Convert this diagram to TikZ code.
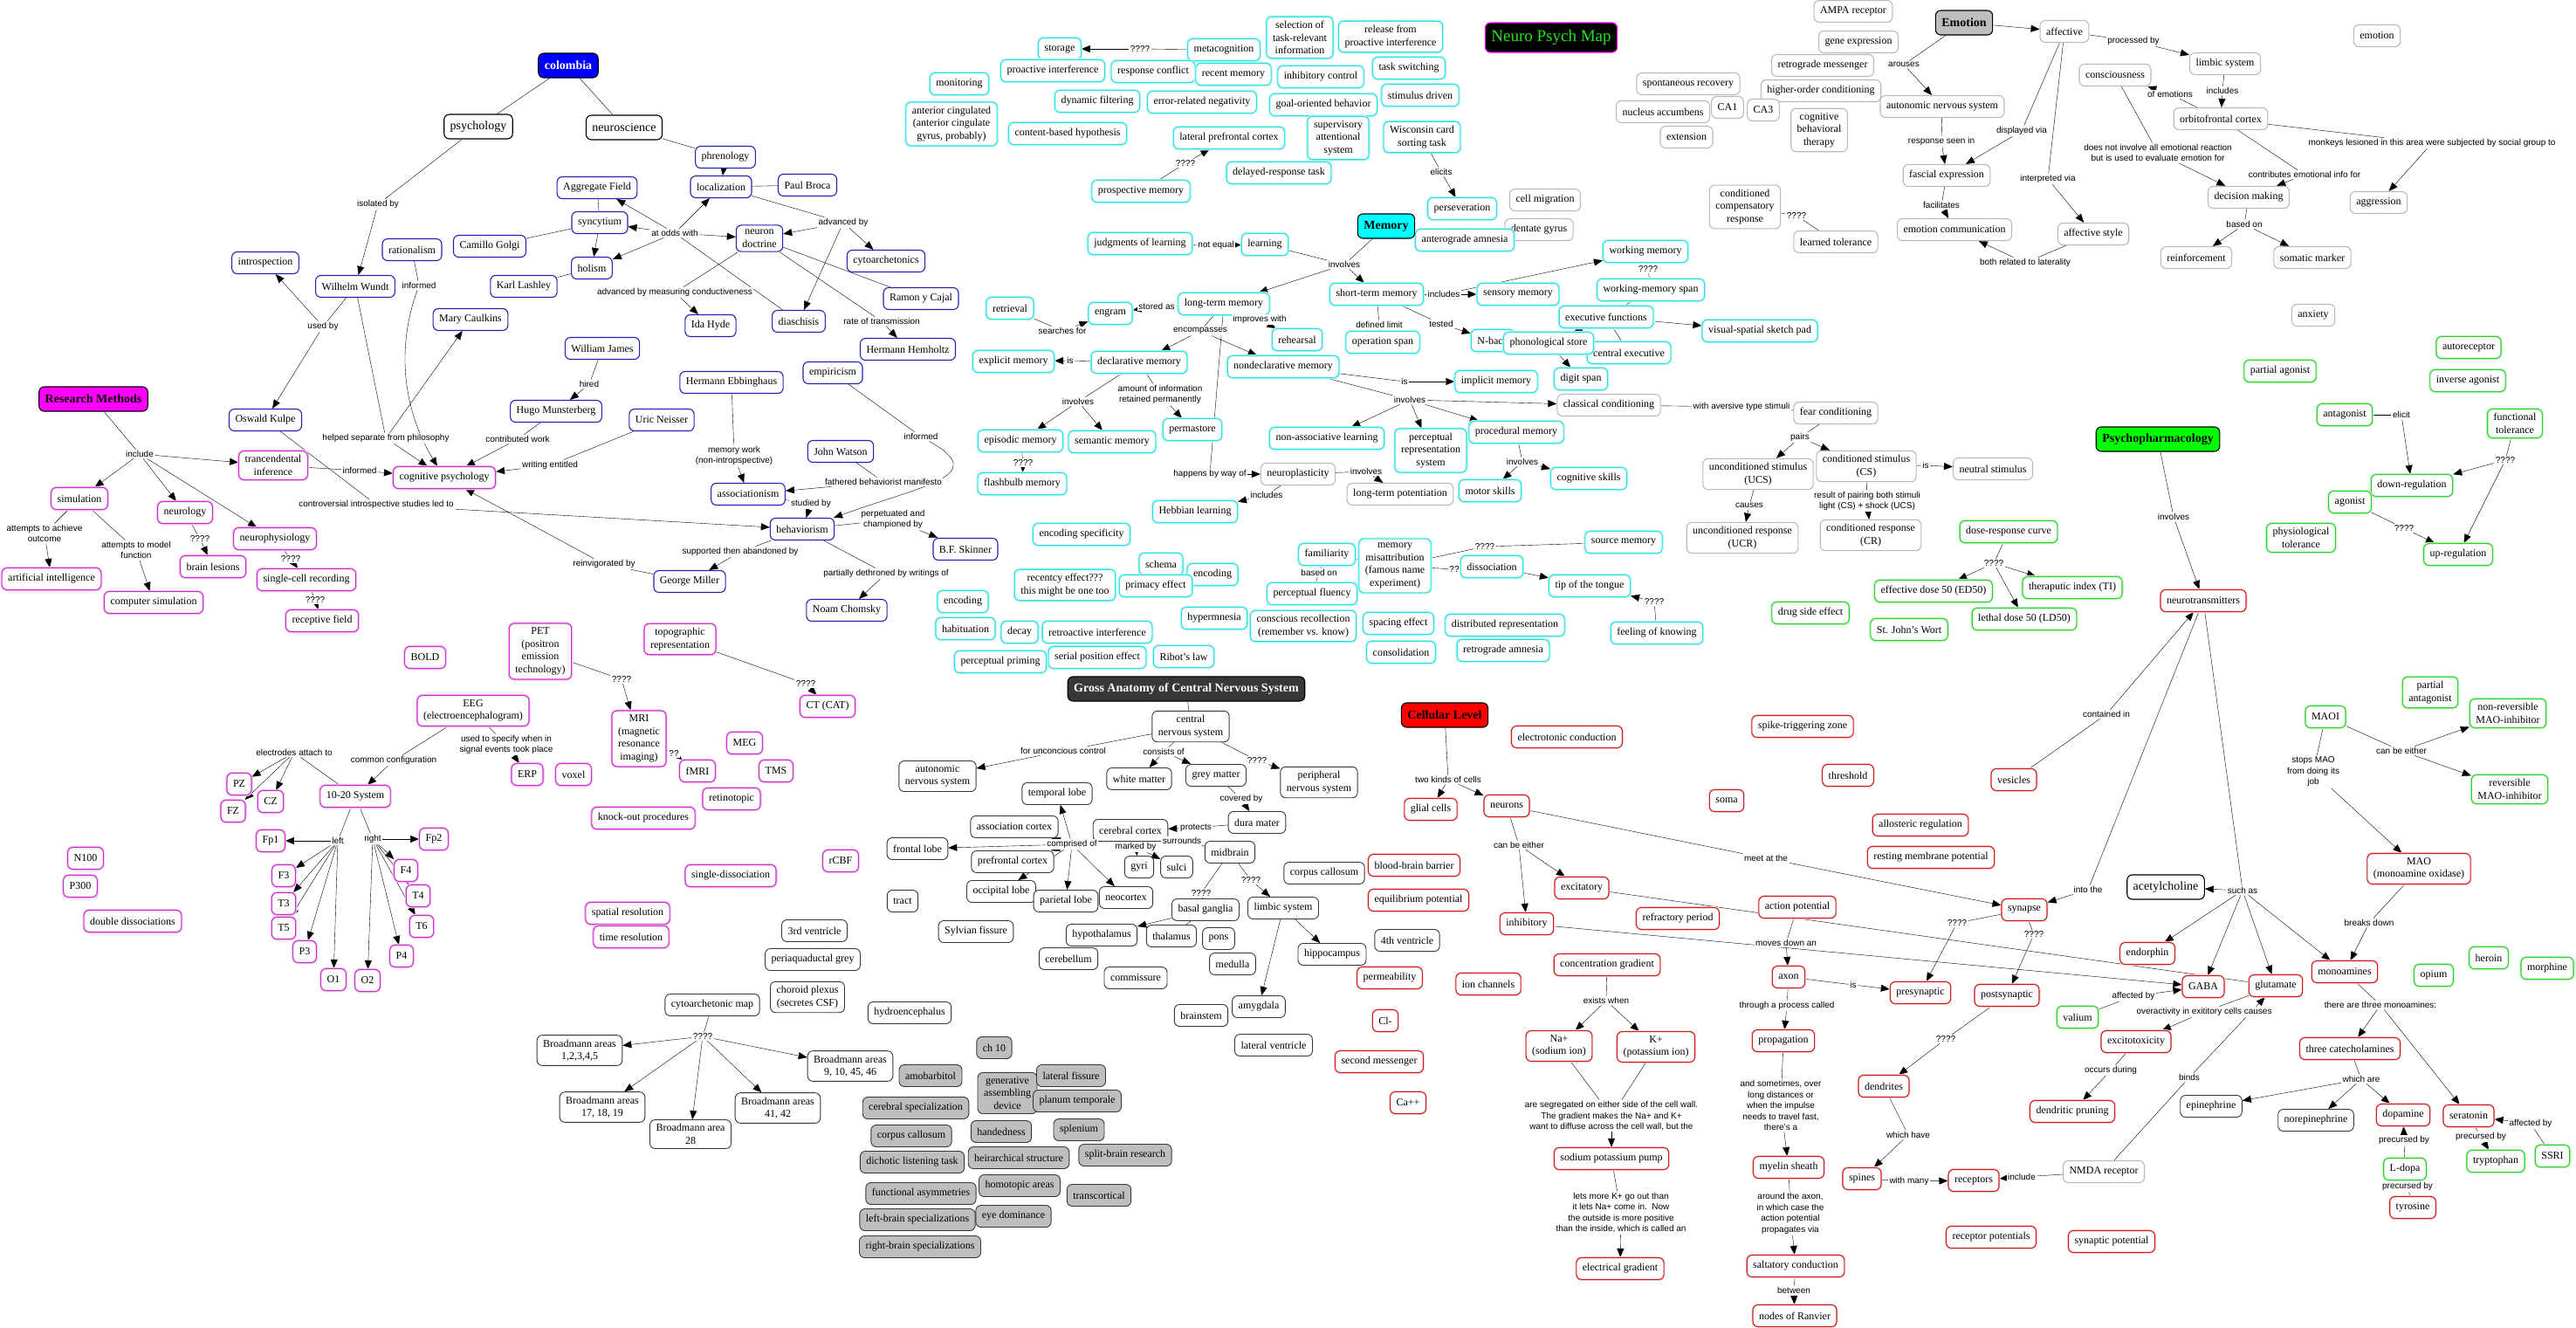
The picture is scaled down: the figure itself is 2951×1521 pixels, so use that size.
\documentclass[tikz,border=0pt]{standalone}
\usepackage{fontspec}
\setmainfont{Liberation Serif}
\setsansfont{Liberation Sans}
\usetikzlibrary{arrows.meta,backgrounds}

\definecolor{histblue}{RGB}{35,35,175}
\definecolor{memcyan}{RGB}{40,225,225}
\definecolor{resmag}{RGB}{205,45,205}
\definecolor{cellred}{RGB}{205,30,30}
\definecolor{pharmgreen}{RGB}{45,210,45}
\definecolor{softgray}{RGB}{185,185,185}
\definecolor{shadegray}{RGB}{190,190,190}
\definecolor{darkbox}{RGB}{55,55,55}
\definecolor{mapgreen}{RGB}{30,230,30}
\definecolor{fillblue}{RGB}{0,0,255}
\definecolor{fillmag}{RGB}{255,0,255}
\definecolor{fillcyan}{RGB}{0,255,255}
\definecolor{fillgreen}{RGB}{0,255,0}
\definecolor{fillred}{RGB}{255,0,0}

\begin{document}
\begin{tikzpicture}[x=1pt, y=-1pt,
    every node/.style={font=\fontsize{12}{14.5}\selectfont},
    conceptbox/.style={rectangle, rounded corners=6pt, draw=black, fill=white, line width=1.1pt,
                       inner xsep=7pt, inner ysep=5pt, minimum height=25pt, align=center},
    histbox/.style={conceptbox, draw=histblue},
    membox/.style={conceptbox, draw=memcyan, preaction={draw=memcyan!30, line width=3.5pt}},
    resbox/.style={conceptbox, draw=resmag, preaction={draw=resmag!25, line width=3.5pt}},
    cellbox/.style={conceptbox, draw=cellred, preaction={draw=cellred!15, line width=3pt}},
    pharmbox/.style={conceptbox, draw=pharmgreen, preaction={draw=pharmgreen!25, line width=3.5pt}},
    plainbox/.style={conceptbox, draw=softgray},
    anatbox/.style={conceptbox, draw=darkbox, line width=0.9pt},
    shadebox/.style={conceptbox, draw=darkbox, fill=shadegray, line width=0.9pt},
    bigbox/.style={conceptbox, font=\fontsize{14}{16}\selectfont, minimum height=28pt},
    titlebox/.style={conceptbox, font=\fontsize{14}{16}\selectfont\bfseries, minimum height=28pt},
    linkstyle/.style={font=\sffamily\fontsize{10}{12.5}\selectfont, fill=white, inner sep=1.5pt, align=center},
    arr/.style={-{Triangle[length=10pt, width=8pt]}}
]
  \useasboundingbox (0,0) rectangle (2951,1521);

  % History column
  \node[titlebox, fill=fillblue, text=white] (colombia) at (651,75) {colombia};
  \node[bigbox] (psych)    at (548,145) {psychology};
  \node[bigbox] (neurosci) at (715,146) {neuroscience};
  \node[histbox] (h-aggr)     at (684,215) {Aggregate Field};
  \node[histbox] (h-sync)     at (687,255) {syncytium};
  \node[histbox] (h-golgi)    at (561,282) {Camillo Golgi};
  \node[histbox] (h-holism)   at (678,307) {holism};
  \node[histbox] (h-lashley)  at (600,328) {Karl Lashley};
  \node[histbox] (h-ration)   at (472,286) {rationalism};
  \node[histbox] (h-intro)    at (304,301) {introspection};
  \node[histbox] (h-wundt)    at (407,328) {Wilhelm Wundt};
  \node[histbox] (h-mary)     at (539,366) {Mary Caulkins};
  \node[histbox] (h-james)    at (690,399) {William James};
  \node[histbox] (h-hugo)     at (637,471) {Hugo Munsterberg};
  \node[histbox] (h-kulpe)    at (304,481) {Oswald Kulpe};
  \node[histbox] (h-phren)    at (831,180) {phrenology};
  \node[histbox] (h-local)    at (826,214) {localization};
  \node[histbox] (h-broca)    at (925,212) {Paul Broca};
  \node[histbox] (h-doctrine) at (870,273) {neuron\\doctrine};
  \node[histbox] (h-cyto)     at (1015,299) {cytoarchetonics};
  \node[histbox] (h-cajal)    at (1055,342) {Ramon y Cajal};
  \node[histbox] (h-hyde)     at (814,373) {Ida Hyde};
  \node[histbox] (h-diasch)   at (915,368) {diaschisis};
  \node[histbox] (h-helm)     at (1040,400) {Hermann Hemholtz};
  \node[histbox] (h-empir)    at (954,427) {empiricism};
  \node[histbox] (h-ebbing)   at (838,438) {Hermann Ebbinghaus};
  \node[histbox] (h-neisser)  at (758,481) {Uric Neisser};
  \node[histbox] (h-watson)   at (963,517) {John Watson};
  \node[histbox] (h-assoc)    at (857,566) {associationism};
  \node[histbox] (h-behav)    at (919,606) {behaviorism};
  \node[histbox] (h-skinner)  at (1106,629) {B.F. Skinner};
  \node[histbox] (h-miller)   at (790,666) {George Miller};
  \node[histbox] (h-chomsky)  at (970,699) {Noam Chomsky};

  \node[linkstyle] (l-isol)       at (433,234) {isolated by};
  \node[linkstyle] (l-usedby)     at (370,374) {used by};
  \node[linkstyle] (l-inform1)    at (480,327) {informed};
  \node[linkstyle] (l-helped)     at (442,502) {helped separate from philosophy};
  \node[linkstyle] (l-contrib)    at (593,503) {contributed work};
  \node[linkstyle] (l-hired)      at (675,440) {hired};
  \node[linkstyle] (l-writing)    at (630,533) {writing entitled};
  \node[linkstyle] (l-odds)       at (773,267) {at odds with};
  \node[linkstyle] (l-adv)        at (966,255) {advanced by};
  \node[linkstyle] (l-advmeas)    at (773,335) {advanced by measuring conductiveness};
  \node[linkstyle] (l-ratetr)     at (1010,368) {rate of transmission};
  \node[linkstyle] (l-memwork)    at (841,522) {memory work\\(non-intropspective)};
  \node[linkstyle] (l-inform2)    at (1055,500) {informed};
  \node[linkstyle] (l-fathered)   at (1012,552) {fathered behaviorist manifesto};
  \node[linkstyle] (l-studied)    at (929,577) {studied by};
  \node[linkstyle] (l-perpet)     at (1023,595) {perpetuated and\\championed by};
  \node[linkstyle] (l-supported)  at (848,632) {supported then abandoned by};
  \node[linkstyle] (l-dethroned)  at (1015,657) {partially dethroned by writings of};
  \node[linkstyle] (l-controv)    at (431,578) {controversial introspective studies led to};
  \node[linkstyle] (l-reinvig)    at (692,646) {reinvigorated by};

  % Research methods column
  \node[titlebox, fill=fillmag] (res-title) at (107,457) {Research Methods};
  \node[resbox] (r-trans)     at (313,533) {trancendental\\inference};
  \node[resbox] (r-cogpsych)  at (509,547) {cognitive psychology};
  \node[resbox] (r-sim)       at (91,571) {simulation};
  \node[resbox] (r-neurol)    at (212,587) {neurology};
  \node[resbox] (r-neurophys) at (315,617) {neurophysiology};
  \node[resbox] (r-ai)        at (59,663) {artificial intelligence};
  \node[resbox] (r-compsim)   at (176,690) {computer simulation};
  \node[resbox] (r-lesions)   at (244,649) {brain lesions};
  \node[resbox] (r-single)    at (351,664) {single-cell recording};
  \node[resbox] (r-recept)    at (369,711) {receptive field};
  \node[resbox] (r-bold)      at (487,753) {BOLD};
  \node[resbox] (r-pet)       at (619,746) {PET\\(positron\\emission\\technology)};
  \node[resbox] (r-topo)      at (779,732) {topographic\\representation};
  \node[resbox] (r-ct)        at (948,809) {CT (CAT)};
  \node[resbox] (r-eeg)       at (542,814) {EEG\\(electroencephalogram)};
  \node[resbox] (r-mri)       at (732,846) {MRI\\(magnetic\\resonance\\imaging)};
  \node[resbox] (r-fmri)      at (799,883) {fMRI};
  \node[resbox] (r-meg)       at (853,851) {MEG};
  \node[resbox] (r-tms)       at (889,883) {TMS};
  \node[resbox] (r-retino)    at (838,915) {retinotopic};
  \node[resbox] (r-knock)     at (737,937) {knock-out procedures};
  \node[resbox] (r-erp)       at (604,887) {ERP};
  \node[resbox] (r-voxel)     at (657,887) {voxel};
  \node[resbox] (r-1020)      at (407,912) {10-20 System};
  \node[resbox] (r-pz)  at (274,898) {PZ};
  \node[resbox] (r-cz)  at (310,918) {CZ};
  \node[resbox] (r-fz)  at (267,929) {FZ};
  \node[resbox] (r-fp1) at (310,963) {Fp1};
  \node[resbox] (r-fp2) at (497,961) {Fp2};
  \node[resbox] (r-f3)  at (325,1003) {F3};
  \node[resbox] (r-f4)  at (465,997) {F4};
  \node[resbox] (r-t3)  at (325,1035) {T3};
  \node[resbox] (r-t4)  at (479,1026) {T4};
  \node[resbox] (r-t5)  at (325,1063) {T5};
  \node[resbox] (r-t6)  at (483,1061) {T6};
  \node[resbox] (r-p3)  at (349,1090) {P3};
  \node[resbox] (r-p4)  at (460,1095) {P4};
  \node[resbox] (r-o1)  at (382,1122) {O1};
  \node[resbox] (r-o2)  at (421,1123) {O2};
  \node[resbox] (r-n100)    at (98,983) {N100};
  \node[resbox] (r-p300)    at (92,1015) {P300};
  \node[resbox] (r-double)  at (152,1055) {double dissociations};
  \node[resbox] (r-singled) at (837,1003) {single-dissociation};
  \node[resbox] (r-rcbf)    at (963,986) {rCBF};
  \node[resbox] (r-spatial) at (719,1046) {spatial resolution};
  \node[resbox] (r-time)    at (723,1073) {time resolution};

  \node[linkstyle] (l-include)  at (160,520) {include};
  \node[linkstyle] (l-inform3)  at (412,539) {informed};
  \node[linkstyle] (l-achieve)  at (51,611) {attempts to achieve\\outcome};
  \node[linkstyle] (l-model)    at (156,630) {attempts to model\\function};
  \node[linkstyle] (l-q1)  at (229,617) {????};
  \node[linkstyle] (l-q2)  at (333,640) {????};
  \node[linkstyle] (l-q3)  at (361,687) {????};
  \node[linkstyle] (l-q4)  at (712,778) {????};
  \node[linkstyle] (l-q5)  at (923,783) {????};
  \node[linkstyle] (l-q6)  at (772,863) {??};
  \node[linkstyle] (l-used)   at (580,853) {used to specify when in\\signal events took place};
  \node[linkstyle] (l-common) at (451,871) {common configuration};
  \node[linkstyle] (l-electr) at (337,862) {electrodes attach to};
  \node[linkstyle] (l-left)   at (387,963) {left};
  \node[linkstyle] (l-right)  at (427,961) {right};

  % Memory column
  \node[membox] (m-storage)   at (1214,56) {storage};
  \node[membox] (m-metacog)   at (1402,57) {metacognition};
  \node[membox] (m-select)    at (1489,43) {selection of\\task-relevant\\information};
  \node[membox] (m-release)   at (1593,42) {release from\\proactive interference};
  \node[membox] (m-proact)    at (1206,81) {proactive interference};
  \node[membox] (m-respconf)  at (1321,82) {response conflict};
  \node[membox] (m-recent)    at (1413,85) {recent memory};
  \node[membox] (m-inhib)     at (1513,88) {inhibitory control};
  \node[membox] (m-task)      at (1614,78) {task switching};
  \node[membox] (m-monitor)   at (1099,96) {monitoring};
  \node[membox] (m-dynfilt)   at (1257,116) {dynamic filtering};
  \node[membox] (m-ern)       at (1377,117) {error-related negativity};
  \node[membox] (m-goal)      at (1516,120) {goal-oriented behavior};
  \node[membox] (m-stim)      at (1627,109) {stimulus driven};
  \node[membox] (m-acc)       at (1090,142) {anterior cingulated\\(anterior cingulate\\gyrus, probably)};
  \node[membox] (m-content)   at (1223,153) {content-based hypothesis};
  \node[membox] (m-lpfc)      at (1408,158) {lateral prefrontal cortex};
  \node[membox] (m-sas)       at (1533,158) {supervisory\\attentional\\system};
  \node[membox] (m-wisc)      at (1629,157) {Wisconsin card\\sorting task};
  \node[membox] (m-delayed)   at (1465,198) {delayed-response task};
  \node[membox] (m-prosp)     at (1307,219) {prospective memory};
  \node[membox] (m-persev)    at (1675,239) {perseveration};
  \node[plainbox] (e-cellmig) at (1770,229) {cell migration};
  \node[plainbox] (e-dentate) at (1763,263) {dentate gyrus};
  \node[membox] (m-antero)    at (1678,275) {anterograde amnesia};
  \node[titlebox, fill=fillcyan] (mem-title) at (1588,259) {Memory};
  \node[membox] (m-jol)       at (1306,279) {judgments of learning};
  \node[membox] (m-learning)  at (1449,280) {learning};
  \node[membox] (m-ltm)       at (1402,348) {long-term memory};
  \node[membox] (m-engram)    at (1272,359) {engram};
  \node[membox] (m-retrieval) at (1157,353) {retrieval};
  \node[membox] (m-rehearsal) at (1486,389) {rehearsal};
  \node[membox] (m-explicit)  at (1161,414) {explicit memory};
  \node[membox] (m-declar)    at (1305,415) {declarative memory};
  \node[membox] (m-nondecl)   at (1470,420) {nondeclarative memory};
  \node[membox] (m-permastore) at (1366,492) {permastore};
  \node[membox] (m-episodic)  at (1169,505) {episodic memory};
  \node[membox] (m-semantic)  at (1274,506) {semantic memory};
  \node[membox] (m-flash)     at (1171,554) {flashbulb memory};
  \node[membox] (m-stm)       at (1577,337) {short-term memory};
  \node[membox] (m-sensory)   at (1739,337) {sensory memory};
  \node[membox] (m-working)   at (1885,288) {working memory};
  \node[membox] (m-wmspan)    at (1891,332) {working-memory span};
  \node[membox] (m-exec)      at (1840,363) {executive functions};
  \node[membox] (m-visual)    at (2016,379) {visual-spatial sketch pad};
  \node[membox] (m-operation) at (1584,392) {operation span};
  \node[membox] (m-nback)     at (1710,390) {N-back};
  \node[membox] (m-central)   at (1866,404) {central executive};
  \node[membox] (m-phono)     at (1774,393) {phonological store};
  \node[membox] (m-digit)     at (1811,434) {digit span};
  \node[membox] (m-implicit)  at (1714,437) {implicit memory};
  \node[membox] (m-nonassoc)  at (1520,502) {non-associative learning};
  \node[membox] (m-prs)       at (1639,516) {perceptual\\representation\\system};
  \node[membox] (m-proced)    at (1737,495) {procedural memory};
  \node[membox] (m-motor)     at (1707,562) {motor skills};
  \node[membox] (m-cogsk)     at (1820,548) {cognitive skills};
  \node[membox] (m-hebb)      at (1369,586) {Hebbian learning};
  \node[membox] (m-encspec)   at (1239,612) {encoding specificity};
  \node[membox] (m-schema)    at (1330,646) {schema};
  \node[membox] (m-encoding2) at (1389,658) {encoding};
  \node[membox] (m-recentcy)  at (1220,670) {recentcy effect???\\this might be one too};
  \node[membox] (m-primacy)   at (1324,671) {primacy effect};
  \node[membox] (m-encoding)  at (1103,689) {encoding};
  \node[membox] (m-hyper)     at (1391,708) {hypermnesia};
  \node[membox] (m-familiar)  at (1520,635) {familiarity};
  \node[membox] (m-fluency)   at (1503,680) {perceptual fluency};
  \node[membox] (m-conscious) at (1493,717) {conscious recollection\\(remember vs. know)};
  \node[membox] (m-misattr)   at (1598,648) {memory\\misattribution\\(famous name\\experiment)};
  \node[membox] (m-habit)     at (1106,720) {habituation};
  \node[membox] (m-decay)     at (1168,724) {decay};
  \node[membox] (m-retroact)  at (1257,724) {retroactive interference};
  \node[membox] (m-priming)   at (1146,758) {perceptual priming};
  \node[membox] (m-serial)    at (1257,753) {serial position effect};
  \node[membox] (m-ribot)     at (1356,752) {Ribot's law};
  \node[membox] (m-source)    at (1860,621) {source memory};
  \node[membox] (m-dissoc)    at (1709,649) {dissociation};
  \node[membox] (m-tot)       at (1821,671) {tip of the tongue};
  \node[membox] (m-fok)       at (1898,725) {feeling of knowing};
  \node[membox] (m-spacing)   at (1602,714) {spacing effect};
  \node[membox] (m-distrib)   at (1724,716) {distributed representation};
  \node[membox] (m-consol)    at (1605,747) {consolidation};
  \node[membox] (m-retrograde) at (1722,745) {retrograde amnesia};

  \node[plainbox] (e-neuroplast) at (1487,543) {neuroplasticity};
  \node[plainbox] (e-ltp)        at (1604,566) {long-term potentiation};
  \node[plainbox] (e-classical)  at (1843,464) {classical conditioning};
  \node[plainbox] (e-fear)       at (2103,473) {fear conditioning};
  \node[plainbox] (e-ucs)        at (2014,543) {unconditioned stimulus\\(UCS)};
  \node[plainbox] (e-cs)         at (2138,534) {conditioned stimulus\\(CS)};
  \node[plainbox] (e-neutral)    at (2283,537) {neutral stimulus};
  \node[plainbox] (e-ucr)        at (1996,616) {unconditioned response\\(UCR)};
  \node[plainbox] (e-cr)         at (2143,613) {conditioned response\\(CR)};

  \node[linkstyle] (l-q17)        at (1306,56) {????};
  \node[linkstyle] (l-q18)        at (1358,187) {????};
  \node[linkstyle] (l-elicits)    at (1651,197) {elicits};
  \node[linkstyle] (l-involves1)  at (1540,303) {involves};
  \node[linkstyle] (l-noteq)      at (1393,281) {not equal};
  \node[linkstyle] (l-stored)     at (1325,351) {stored as};
  \node[linkstyle] (l-searches)   at (1217,379) {searches for};
  \node[linkstyle] (l-improves)   at (1443,366) {improves with};
  \node[linkstyle] (l-encomp)     at (1375,379) {encompasses};
  \node[linkstyle] (l-is1)        at (1226,413) {is};
  \node[linkstyle] (l-involves2)  at (1235,460) {involves};
  \node[linkstyle] (l-amount)     at (1329,452) {amount of information\\retained permanently};
  \node[linkstyle] (l-q19)        at (1172,530) {????};
  \node[linkstyle] (l-happens)    at (1386,543) {happens by way of};
  \node[linkstyle] (l-includes4)  at (1451,567) {includes};
  \node[linkstyle] (l-involves6)  at (1565,540) {involves};
  \node[linkstyle] (l-includes1)  at (1654,337) {includes};
  \node[linkstyle] (l-defined)    at (1580,372) {defined limit};
  \node[linkstyle] (l-tested)     at (1651,371) {tested};
  \node[linkstyle] (l-q20)        at (1888,308) {????};
  \node[linkstyle] (l-is2)        at (1609,437) {is};
  \node[linkstyle] (l-involves3)  at (1615,458) {involves};
  \node[linkstyle] (l-involves4)  at (1744,529) {involves};
  \node[linkstyle] (l-aversive)   at (1995,466) {with aversive type stimuli};
  \node[linkstyle] (l-pairs)      at (2062,501) {pairs};
  \node[linkstyle] (l-causes)     at (2004,579) {causes};
  \node[linkstyle] (l-is4)        at (2206,533) {is};
  \node[linkstyle] (l-result)     at (2139,574) {result of pairing both stimuli\\light (CS) + shock (UCS)};
  \node[linkstyle] (l-q22)        at (1701,626) {????};
  \node[linkstyle] (l-q23)        at (1666,652) {??};
  \node[linkstyle] (l-q24)        at (1895,689) {????};
  \node[linkstyle] (l-basedon2)   at (1511,656) {based on};

  % Emotion column
  \node[conceptbox, fill=black, draw=fillmag, text=mapgreen, font=\fontsize{19}{22}\selectfont,
        minimum height=34pt] (map-title) at (1777,43) {Neuro Psych Map};
  \node[plainbox] (e-ampa)      at (2123,13) {AMPA receptor};
  \node[plainbox] (e-gene)      at (2129,48) {gene expression};
  \node[plainbox] (e-retro)     at (2088,75) {retrograde messenger};
  \node[plainbox] (e-spont)     at (1934,96) {spontaneous recovery};
  \node[plainbox] (e-higher)    at (2086,104) {higher-order conditioning};
  \node[plainbox] (e-nucleus)   at (1905,128) {nucleus accumbens};
  \node[plainbox] (e-ca1)       at (1979,123) {CA1};
  \node[plainbox] (e-ca3)       at (2020,126) {CA3};
  \node[plainbox] (e-cbt)       at (2084,149) {cognitive\\behavioral\\therapy};
  \node[plainbox] (e-extension) at (1932,157) {extension};
  \node[plainbox] (e-ccr)       at (1999,237) {conditioned\\compensatory\\response};
  \node[plainbox] (e-learned)   at (2103,277) {learned tolerance};
  \node[titlebox, fill=shadegray] (emo-title) at (2250,26) {Emotion};
  \node[plainbox] (e-affective) at (2365,36) {affective};
  \node[plainbox] (e-emotion)   at (2723,41) {emotion};
  \node[plainbox] (e-limbic)    at (2549,73) {limbic system};
  \node[plainbox] (e-conscious) at (2423,86) {consciousness};
  \node[plainbox] (e-ofc)       at (2544,136) {orbitofrontal cortex};
  \node[plainbox] (e-ans)       at (2225,122) {autonomic nervous system};
  \node[plainbox] (e-fascial)   at (2230,201) {fascial expression};
  \node[plainbox] (e-decision)  at (2576,226) {decision making};
  \node[plainbox] (e-aggress)   at (2725,232) {aggression};
  \node[plainbox] (e-emocomm)   at (2239,263) {emotion communication};
  \node[plainbox] (e-affstyle)  at (2398,268) {affective style};
  \node[plainbox] (e-reinf)     at (2516,295) {reinforcement};
  \node[plainbox] (e-somatic)   at (2649,295) {somatic marker};
  \node[plainbox] (e-anxiety)   at (2650,361) {anxiety};

  \node[linkstyle] (l-q21)         at (2058,247) {????};
  \node[linkstyle] (l-arouses)     at (2181,74) {arouses};
  \node[linkstyle] (l-respseen)    at (2224,162) {response seen in};
  \node[linkstyle] (l-facil)       at (2224,235) {facilitates};
  \node[linkstyle] (l-processed)   at (2444,47) {processed by};
  \node[linkstyle] (l-includes3)   at (2546,104) {includes};
  \node[linkstyle] (l-ofemo)       at (2486,108) {of emotions};
  \node[linkstyle] (l-displayed)   at (2316,150) {displayed via};
  \node[linkstyle] (l-doesnot)     at (2472,175) {does not involve all emotional reaction\\but is used to evaluate emotion for};
  \node[linkstyle] (l-monkeys)     at (2786,164) {monkeys lesioned in this area were subjected by social group to};
  \node[linkstyle] (l-contributes) at (2640,200) {contributes emotional info for};
  \node[linkstyle] (l-interp)      at (2346,205) {interpreted via};
  \node[linkstyle] (l-laterality)  at (2320,301) {both related to laterality};
  \node[linkstyle] (l-basedon)     at (2571,257) {based on};

  % Psychopharmacology column
  \node[titlebox, fill=fillgreen] (pharm-title) at (2472,503) {Psychopharmacology};
  \node[pharmbox] (p-dose)    at (2301,609) {dose-response curve};
  \node[pharmbox] (p-ed50)    at (2215,677) {effective dose 50 (ED50)};
  \node[pharmbox] (p-ti)      at (2374,673) {theraputic index (TI)};
  \node[pharmbox] (p-ld50)    at (2319,709) {lethal dose 50 (LD50)};
  \node[pharmbox] (p-wort)    at (2187,721) {St. John's Wort};
  \node[pharmbox] (p-side)    at (2074,702) {drug side effect};
  \node[pharmbox] (p-partag)  at (2612,425) {partial agonist};
  \node[pharmbox] (p-autorec) at (2828,398) {autoreceptor};
  \node[pharmbox] (p-inverse) at (2827,436) {inverse agonist};
  \node[pharmbox] (p-antag)   at (2686,475) {antagonist};
  \node[pharmbox] (p-functol) at (2881,485) {functional\\tolerance};
  \node[pharmbox] (p-down)    at (2763,556) {down-regulation};
  \node[pharmbox] (p-agonist) at (2692,575) {agonist};
  \node[pharmbox] (p-physio)  at (2636,616) {physiological\\tolerance};
  \node[pharmbox] (p-up)      at (2816,635) {up-regulation};
  \node[pharmbox] (p-partant) at (2784,793) {partial\\antagonist};
  \node[pharmbox] (p-maoi)    at (2664,821) {MAOI};
  \node[pharmbox] (p-nonrev)  at (2873,817) {non-reversible\\MAO-inhibitor};
  \node[pharmbox] (p-rev)     at (2875,904) {reversible\\MAO-inhibitor};
  \node[pharmbox] (p-valium)  at (2380,1165) {valium};
  \node[pharmbox] (p-opium)   at (2788,1117) {opium};
  \node[pharmbox] (p-heroin)  at (2851,1097) {heroin};
  \node[pharmbox] (p-morph)   at (2918,1109) {morphine};
  \node[pharmbox] (p-ldopa)   at (2755,1339) {L-dopa};
  \node[pharmbox] (p-trypt)   at (2859,1330) {tryptophan};
  \node[pharmbox] (p-ssri)    at (2924,1324) {SSRI};

  \node[linkstyle] (l-involves5) at (2490,592) {involves};
  \node[linkstyle] (l-q14)       at (2284,645) {????};
  \node[linkstyle] (l-elicit)    at (2751,475) {elicit};
  \node[linkstyle] (l-q15)       at (2870,527) {????};
  \node[linkstyle] (l-q16)       at (2754,605) {????};
  \node[linkstyle] (l-contained) at (2413,818) {contained in};
  \node[linkstyle] (l-canbe2)    at (2751,860) {can be either};
  \node[linkstyle] (l-stops)     at (2650,884) {stops MAO\\from doing its\\job};

  % Cellular column
  \node[titlebox, fill=fillred] (cell-title) at (1655,819) {Cellular Level};
  \node[cellbox] (c-electro)   at (1795,844) {electrotonic conduction};
  \node[cellbox] (c-glial)     at (1639,927) {glial cells};
  \node[cellbox] (c-neurons)   at (1726,923) {neurons};
  \node[cellbox] (c-bbb)       at (1620,991) {blood-brain barrier};
  \node[cellbox] (c-equil)     at (1625,1031) {equilibrium potential};
  \node[cellbox] (c-excit)     at (1812,1017) {excitatory};
  \node[cellbox] (c-inhib)     at (1749,1058) {inhibitory};
  \node[cellbox] (c-refract)   at (1922,1052) {refractory period};
  \node[cellbox] (c-ap)        at (2059,1039) {action potential};
  \node[cellbox] (c-perm)      at (1592,1120) {permeability};
  \node[cellbox] (c-ion)       at (1705,1127) {ion channels};
  \node[cellbox] (c-conc)      at (1841,1105) {concentration gradient};
  \node[cellbox] (c-axon)      at (2049,1119) {axon};
  \node[cellbox] (c-presyn)    at (2200,1137) {presynaptic};
  \node[cellbox] (c-cl)        at (1587,1169) {Cl-};
  \node[cellbox] (c-na)        at (1786,1198) {Na+\\(sodium ion)};
  \node[cellbox] (c-k)         at (1897,1199) {K+\\(potassium ion)};
  \node[cellbox] (c-prop)      at (2043,1192) {propagation};
  \node[cellbox] (c-second)    at (1580,1216) {second messenger};
  \node[cellbox] (c-ca)        at (1613,1263) {Ca++};
  \node[cellbox] (c-pump)      at (1846,1327) {sodium potassium pump};
  \node[cellbox] (c-myelin)    at (2049,1337) {myelin sheath};
  \node[cellbox] (c-elgrad)    at (1856,1453) {electrical gradient};
  \node[cellbox] (c-salt)      at (2057,1450) {saltatory conduction};
  \node[cellbox] (c-ranvier)   at (2056,1507) {nodes of Ranvier};
  \node[cellbox] (c-dendr)     at (2158,1244) {dendrites};
  \node[cellbox] (c-spines)    at (2133,1350) {spines};
  \node[cellbox] (c-recept)    at (2261,1352) {receptors};
  \node[cellbox] (c-recpot)    at (2281,1417) {receptor potentials};
  \node[cellbox] (c-synpot)    at (2419,1422) {synaptic potential};
  \node[cellbox] (c-spike)     at (2065,832) {spike-triggering zone};
  \node[cellbox] (c-thresh)    at (2117,888) {threshold};
  \node[cellbox] (c-soma)      at (1978,917) {soma};
  \node[cellbox] (c-allost)    at (2200,945) {allosteric regulation};
  \node[cellbox] (c-resting)   at (2212,982) {resting membrane potential};
  \node[cellbox] (c-synapse)   at (2319,1042) {synapse};
  \node[cellbox] (c-postsyn)   at (2299,1140) {postsynaptic};
  \node[cellbox] (c-vesicles)  at (2307,893) {vesicles};
  \node[cellbox] (c-nt)        at (2524,688) {neurotransmitters};
  \node[cellbox] (c-endorph)   at (2460,1092) {endorphin};
  \node[cellbox] (c-gaba)      at (2524,1130) {GABA};
  \node[cellbox] (c-glut)      at (2607,1129) {glutamate};
  \node[cellbox] (c-monoam)    at (2686,1113) {monoamines};
  \node[cellbox] (c-excitotox) at (2447,1193) {excitotoxicity};
  \node[cellbox] (c-pruning)   at (2374,1273) {dendritic pruning};
  \node[cellbox] (c-three)     at (2692,1201) {three catecholamines};
  \node[cellbox] (c-dopa)      at (2753,1277) {dopamine};
  \node[cellbox] (c-sera)      at (2828,1278) {seratonin};
  \node[cellbox] (c-tyros)     at (2764,1383) {tyrosine};
  \node[cellbox] (c-mao)       at (2771,995) {MAO\\(monoamine oxidase)};
  \node[bigbox] (k-acetyl)     at (2481,1016) {acetylcholine};
  \node[anatbox] (k-epi)       at (2533,1267) {epinephrine};
  \node[anatbox] (k-norepi)    at (2653,1283) {norepinephrine};
  \node[plainbox] (e-nmda)     at (2410,1342) {NMDA receptor};

  \node[linkstyle] (l-twokinds)  at (1659,893) {two kinds of cells};
  \node[linkstyle] (l-canbe)     at (1740,968) {can be either};
  \node[linkstyle] (l-meet)      at (2023,983) {meet at the};
  \node[linkstyle] (l-moves)     at (2046,1080) {moves down an};
  \node[linkstyle] (l-is3)       at (2123,1128) {is};
  \node[linkstyle] (l-through)   at (2047,1152) {through a process called};
  \node[linkstyle] (l-sometimes) at (2040,1266) {and sometimes, over\\long distances or\\when the impulse\\needs to travel fast,\\there's a};
  \node[linkstyle] (l-around)    at (2051,1390) {around the axon,\\in which case the\\action potential\\propagates via};
  \node[linkstyle] (l-between)   at (2055,1478) {between};
  \node[linkstyle] (l-exists)    at (1840,1146) {exists when};
  \node[linkstyle] (l-segreg)    at (1846,1278) {are segregated on either side of the cell wall.\\The gradient makes the Na+ and K+\\want to diffuse across the cell wall, but the};
  \node[linkstyle] (l-letsmore)  at (1857,1389) {lets more K+ go out than\\it lets Na+ come in.\ \ Now\\the outside is more positive\\than the inside, which is called an};
  \node[linkstyle] (l-which)     at (2186,1300) {which have};
  \node[linkstyle] (l-withmany)  at (2187,1353) {with many};
  \node[linkstyle] (l-q11)       at (2242,1057) {????};
  \node[linkstyle] (l-q12)       at (2330,1070) {????};
  \node[linkstyle] (l-q13)       at (2229,1190) {????};
  \node[linkstyle] (l-intothe)   at (2392,1019) {into the};
  \node[linkstyle] (l-suchas)    at (2569,1020) {such as};
  \node[linkstyle] (l-breaks)    at (2714,1057) {breaks down};
  \node[linkstyle] (l-affby1)    at (2444,1141) {affected by};
  \node[linkstyle] (l-overact)   at (2525,1159) {overactivity in exititory cells causes};
  \node[linkstyle] (l-threemono) at (2727,1151) {there are three monoamines:};
  \node[linkstyle] (l-occurs)    at (2418,1226) {occurs during};
  \node[linkstyle] (l-binds)     at (2508,1234) {binds};
  \node[linkstyle] (l-whichare)  at (2705,1236) {which are};
  \node[linkstyle] (l-affby2)    at (2899,1287) {affected by};
  \node[linkstyle] (l-precur1)   at (2754,1306) {precursed by};
  \node[linkstyle] (l-precur2)   at (2842,1302) {precursed by};
  \node[linkstyle] (l-precur3)   at (2758,1359) {precursed by};
  \node[linkstyle] (l-include2)  at (2316,1348) {include};

  % Anatomy column
  \node[titlebox, fill=darkbox, text=white] (anat-title) at (1359,789) {Gross Anatomy of Central Nervous System};
  \node[anatbox] (a-cns)       at (1364,832) {central\\nervous system};
  \node[anatbox] (a-ans)       at (1074,889) {autonomic\\nervous system};
  \node[anatbox] (a-white)     at (1305,892) {white matter};
  \node[anatbox] (a-grey)      at (1393,888) {grey matter};
  \node[anatbox] (a-pns)       at (1511,896) {peripheral\\nervous system};
  \node[anatbox] (a-temporal)  at (1211,909) {temporal lobe};
  \node[anatbox] (a-assoc)     at (1162,947) {association cortex};
  \node[anatbox] (a-cerebral)  at (1295,951) {cerebral cortex};
  \node[anatbox] (a-dura)      at (1440,942) {dura mater};
  \node[anatbox] (a-frontal)   at (1051,972) {frontal lobe};
  \node[anatbox] (a-midbrain)  at (1409,976) {midbrain};
  \node[anatbox] (a-prefront)  at (1160,987) {prefrontal cortex};
  \node[anatbox] (a-gyri)      at (1305,993) {gyri};
  \node[anatbox] (a-sulci)     at (1348,993) {sulci};
  \node[anatbox] (a-corpus)    at (1517,1000) {corpus callosum};
  \node[anatbox] (a-occip)     at (1147,1021) {occipital lobe};
  \node[anatbox] (a-pariet)    at (1221,1032) {parietal lobe};
  \node[anatbox] (a-neocortex) at (1290,1028) {neocortex};
  \node[anatbox] (a-basal)     at (1381,1042) {basal ganglia};
  \node[anatbox] (a-limbic)    at (1470,1040) {limbic system};
  \node[anatbox] (a-hypo)      at (1262,1071) {hypothalamus};
  \node[anatbox] (a-thal)      at (1342,1072) {thalamus};
  \node[anatbox] (a-pons)      at (1396,1075) {pons};
  \node[anatbox] (a-cereb)     at (1224,1098) {cerebellum};
  \node[anatbox] (a-medulla)   at (1412,1104) {medulla};
  \node[anatbox] (a-commis)    at (1301,1120) {commissure};
  \node[anatbox] (a-hippo)     at (1526,1093) {hippocampus};
  \node[anatbox] (a-fourth)    at (1612,1077) {4th ventricle};
  \node[anatbox] (a-amyg)      at (1442,1153) {amygdala};
  \node[anatbox] (a-brainstem) at (1376,1163) {brainstem};
  \node[anatbox] (a-latvent)   at (1459,1197) {lateral ventricle};
  \node[anatbox] (a-tract)     at (1034,1032) {tract};
  \node[anatbox] (a-third)     at (933,1066) {3rd ventricle};
  \node[anatbox] (a-sylvian)   at (1118,1067) {Sylvian fissure};
  \node[anatbox] (a-peri)      at (931,1099) {periaquaductal grey};
  \node[anatbox] (a-choroid)   at (925,1142) {choroid plexus\\(secretes CSF)};
  \node[anatbox] (a-cytomap)   at (816,1151) {cytoarchetonic map};
  \node[anatbox] (a-hydro)     at (1042,1160) {hydroencephalus};
  \node[anatbox] (a-ba1)       at (664,1203) {Broadmann areas\\1,2,3,4,5};
  \node[anatbox] (a-ba17)      at (690,1268) {Broadmann areas\\17, 18, 19};
  \node[anatbox] (a-ba28)      at (791,1299) {Broadmann area\\28};
  \node[anatbox] (a-ba41)      at (891,1269) {Broadmann areas\\41, 42};
  \node[anatbox] (a-ba9)       at (974,1221) {Broadmann areas\\9, 10, 45, 46};

  \node[shadebox] (g-ch10)     at (1139,1200) {ch 10};
  \node[shadebox] (g-amobar)   at (1066,1232) {amobarbitol};
  \node[shadebox] (g-gad)      at (1154,1252) {generative\\assembling\\device};
  \node[shadebox] (g-latfis)   at (1227,1232) {lateral fissure};
  \node[shadebox] (g-planum)   at (1234,1261) {planum temporale};
  \node[shadebox] (g-cerspec)  at (1049,1269) {cerebral specialization};
  \node[shadebox] (g-hand)     at (1147,1296) {handedness};
  \node[shadebox] (g-splen)    at (1236,1294) {splenium};
  \node[shadebox] (g-corpus)   at (1044,1301) {corpus callosum};
  \node[shadebox] (g-dichotic) at (1045,1331) {dichotic listening task};
  \node[shadebox] (g-hier)     at (1167,1326) {heirarchical structure};
  \node[shadebox] (g-split)    at (1289,1323) {split-brain research};
  \node[shadebox] (g-funcasym) at (1055,1367) {functional asymmetries};
  \node[shadebox] (g-homo)     at (1168,1358) {homotopic areas};
  \node[shadebox] (g-transc)   at (1259,1369) {transcortical};
  \node[shadebox] (g-leftbr)   at (1051,1397) {left-brain specializations};
  \node[shadebox] (g-eye)      at (1161,1393) {eye dominance};
  \node[shadebox] (g-rightbr)  at (1054,1428) {right-brain specializations};

  \node[linkstyle] (l-unconc)    at (1218,860) {for unconcious control};
  \node[linkstyle] (l-consists)  at (1333,861) {consists of};
  \node[linkstyle] (l-q7)        at (1440,871) {????};
  \node[linkstyle] (l-covered)   at (1422,915) {covered by};
  \node[linkstyle] (l-protects)  at (1370,948) {protects};
  \node[linkstyle] (l-surrounds) at (1354,963) {surrounds};
  \node[linkstyle] (l-comprised) at (1228,967) {comprised of};
  \node[linkstyle] (l-marked)    at (1301,970) {marked by};
  \node[linkstyle] (l-q8)        at (1376,1023) {????};
  \node[linkstyle] (l-q9)        at (1433,1008) {????};
  \node[linkstyle] (l-q10)       at (805,1187) {????};

  \begin{scope}[on background layer, line width=0.9pt]
    % history links
    \draw (colombia) -- (psych);
    \draw (colombia) -- (neurosci);
    \draw (neurosci) -- (h-phren);
    \draw[arr] (h-phren) -- (h-local);
    \draw (h-local) -- (h-broca);
    \draw (psych) -- (l-isol);
    \draw[arr] (l-isol) -- (h-wundt);
    \draw (h-wundt) -- (l-usedby);
    \draw[arr] (l-usedby) -- (h-intro);
    \draw[arr] (l-usedby) -- (h-kulpe);
    \draw (h-ration) -- (l-inform1);
    \draw[arr] (l-inform1) .. controls (450,410) and (468,480) .. (r-cogpsych);
    \draw (h-wundt) -- (l-helped);
    \draw[arr] (l-helped) -- (r-cogpsych);
    \draw[arr] (l-helped) -- (h-mary);
    \draw (h-golgi) -- (h-sync);
    \draw (h-aggr) -- (h-sync);
    \draw[arr] (h-sync) -- (h-holism);
    \draw (h-lashley) -- (h-holism);
    \draw (h-diasch) -- (l-odds);
    \draw[arr] (l-odds) -- (h-aggr);
    \draw[arr] (l-odds) -- (h-sync);
    \draw[arr] (l-odds) -- (h-holism);
    \draw[arr] (l-odds) -- (h-local);
    \draw[arr] (l-odds) -- (h-doctrine);
    \draw (h-local) -- (l-adv);
    \draw[arr] (l-adv) -- (h-doctrine);
    \draw[arr] (l-adv) -- (h-cyto);
    \draw[arr] (l-adv) -- (h-diasch);
    \draw (h-doctrine) -- (l-advmeas);
    \draw[arr] (l-advmeas) -- (h-hyde);
    \draw (h-doctrine) -- (h-cajal);
    \draw (h-doctrine) -- (l-ratetr);
    \draw[arr] (l-ratetr) -- (h-helm);
    \draw (h-ebbing) -- (l-memwork);
    \draw[arr] (l-memwork) -- (h-assoc);
    \draw (h-empir) -- (l-inform2);
    \draw[arr] (l-inform2) .. controls (1135,545) and (1060,555) .. (h-behav);
    \draw (h-watson) -- (l-fathered);
    \draw[arr] (l-fathered) -- (h-assoc);
    \draw (h-assoc) -- (l-studied);
    \draw[arr] (l-studied) -- (h-behav);
    \draw (h-behav) -- (l-perpet);
    \draw[arr] (l-perpet) -- (h-skinner);
    \draw (h-behav) -- (l-supported);
    \draw[arr] (l-supported) -- (h-miller);
    \draw (h-behav) -- (l-dethroned);
    \draw[arr] (l-dethroned) -- (h-chomsky);
    \draw (h-kulpe) -- (l-controv);
    \draw[arr] (l-controv) -- (h-behav);
    \draw (h-miller) -- (l-reinvig);
    \draw[arr] (l-reinvig) -- (r-cogpsych);
    \draw (h-neisser) -- (l-writing);
    \draw[arr] (l-writing) -- (r-cogpsych);
    \draw (h-hugo) -- (l-contrib);
    \draw[arr] (l-contrib) -- (r-cogpsych);
    \draw (h-james) -- (l-hired);
    \draw[arr] (l-hired) -- (h-hugo);

    % research links
    \draw (res-title) -- (l-include);
    \draw[arr] (l-include) -- (r-trans);
    \draw[arr] (l-include) -- (r-sim);
    \draw[arr] (l-include) -- (r-neurol);
    \draw[arr] (l-include) -- (r-neurophys);
    \draw (r-trans) -- (l-inform3);
    \draw[arr] (l-inform3) -- (r-cogpsych);
    \draw (r-sim) -- (l-achieve);
    \draw[arr] (l-achieve) -- (r-ai);
    \draw (r-sim) -- (l-model);
    \draw[arr] (l-model) -- (r-compsim);
    \draw (r-neurol) -- (l-q1);
    \draw[arr] (l-q1) -- (r-lesions);
    \draw (r-neurophys) -- (l-q2);
    \draw[arr] (l-q2) -- (r-single);
    \draw (r-single) -- (l-q3);
    \draw[arr] (l-q3) -- (r-recept);
    \draw (r-pet) -- (l-q4);
    \draw[arr] (l-q4) -- (r-mri);
    \draw (r-topo) -- (l-q5);
    \draw[arr] (l-q5) -- (r-ct);
    \draw (r-mri) -- (l-q6);
    \draw[arr] (l-q6) -- (r-fmri);
    \draw (r-eeg) -- (l-common);
    \draw[arr] (l-common) -- (r-1020);
    \draw (r-eeg) -- (l-used);
    \draw[arr] (l-used) -- (r-erp);
    \draw (r-1020) -- (l-electr);
    \draw[arr] (l-electr) -- (r-pz);
    \draw[arr] (l-electr) -- (r-cz);
    \draw[arr] (l-electr) -- (r-fz);
    \draw (r-1020) -- (l-left);
    \draw[arr] (l-left) -- (r-fp1);
    \draw[arr] (l-left) -- (r-f3);
    \draw[arr] (l-left) -- (r-t3);
    \draw[arr] (l-left) -- (r-t5);
    \draw[arr] (l-left) -- (r-p3);
    \draw[arr] (l-left) -- (r-o1);
    \draw (r-1020) -- (l-right);
    \draw[arr] (l-right) -- (r-fp2);
    \draw[arr] (l-right) -- (r-f4);
    \draw[arr] (l-right) -- (r-t4);
    \draw[arr] (l-right) -- (r-t6);
    \draw[arr] (l-right) -- (r-p4);
    \draw[arr] (l-right) -- (r-o2);

    % memory links
    \draw (m-metacog) -- (l-q17);
    \draw[arr] (l-q17) -- (m-storage);
    \draw (m-prosp) -- (l-q18);
    \draw[arr] (l-q18) -- (m-lpfc);
    \draw (m-wisc) -- (l-elicits);
    \draw[arr] (l-elicits) -- (m-persev);
    \draw (mem-title) -- (l-involves1);
    \draw (m-learning) -- (l-involves1);
    \draw[arr] (l-involves1) -- (m-stm);
    \draw[arr] (l-involves1) -- (m-ltm);
    \draw (m-jol) -- (l-noteq);
    \draw[arr] (l-noteq) -- (m-learning);
    \draw (m-ltm) -- (l-stored);
    \draw[arr] (l-stored) -- (m-engram);
    \draw (m-retrieval) -- (l-searches);
    \draw[arr] (l-searches) -- (m-engram);
    \draw (m-ltm) -- (l-improves);
    \draw[arr] (l-improves) -- (m-rehearsal);
    \draw (m-ltm) -- (l-encomp);
    \draw[arr] (l-encomp) -- (m-declar);
    \draw[arr] (l-encomp) -- (m-nondecl);
    \draw (m-declar) -- (l-is1);
    \draw[arr] (l-is1) -- (m-explicit);
    \draw (m-declar) -- (l-involves2);
    \draw[arr] (l-involves2) -- (m-episodic);
    \draw[arr] (l-involves2) -- (m-semantic);
    \draw (m-declar) -- (l-amount);
    \draw[arr] (l-amount) -- (m-permastore);
    \draw (m-episodic) -- (l-q19);
    \draw[arr] (l-q19) -- (m-flash);
    \draw (m-ltm) -- (l-happens);
    \draw[arr] (l-happens) -- (e-neuroplast);
    \draw (e-neuroplast) -- (l-includes4);
    \draw[arr] (l-includes4) -- (m-hebb);
    \draw (e-neuroplast) -- (l-involves6);
    \draw[arr] (l-involves6) -- (e-ltp);
    \draw (m-nondecl) -- (l-is2);
    \draw[arr] (l-is2) -- (m-implicit);
    \draw (m-nondecl) -- (l-involves3);
    \draw[arr] (l-involves3) -- (m-nonassoc);
    \draw[arr] (l-involves3) -- (m-prs);
    \draw[arr] (l-involves3) -- (m-proced);
    \draw[arr] (l-involves3) -- (e-classical);
    \draw (m-proced) -- (l-involves4);
    \draw[arr] (l-involves4) -- (m-motor);
    \draw[arr] (l-involves4) -- (m-cogsk);
    \draw (e-classical) -- (l-aversive);
    \draw (l-aversive) -- (e-fear);
    \draw (e-fear) -- (l-pairs);
    \draw[arr] (l-pairs) -- (e-ucs);
    \draw[arr] (l-pairs) -- (e-cs);
    \draw (e-ucs) -- (l-causes);
    \draw[arr] (l-causes) -- (e-ucr);
    \draw (e-cs) -- (l-is4);
    \draw[arr] (l-is4) -- (e-neutral);
    \draw (e-cs) -- (l-result);
    \draw[arr] (l-result) -- (e-cr);
    \draw (m-stm) -- (l-includes1);
    \draw[arr] (l-includes1) -- (m-sensory);
    \draw[arr] (l-includes1) -- (m-working);
    \draw (m-stm) -- (l-defined);
    \draw (l-defined) -- (m-operation);
    \draw (m-stm) -- (l-tested);
    \draw[arr] (l-tested) -- (m-nback);
    \draw (m-working) -- (l-q20);
    \draw (l-q20) -- (m-wmspan);
    \draw (m-wmspan) -- (m-exec);
    \draw[arr] (m-exec) -- (m-visual);
    \draw (m-exec) -- (m-central);
    \draw[arr] (m-exec) -- (m-phono);
    \draw[arr] (m-phono) -- (m-digit);
    \draw (e-ccr) -- (l-q21);
    \draw (l-q21) -- (e-learned);
    \draw (m-misattr) -- (l-q22);
    \draw (l-q22) -- (m-source);
    \draw (m-misattr) -- (l-q23);
    \draw (l-q23) -- (m-dissoc);
    \draw[arr] (m-dissoc) -- (m-tot);
    \draw (m-fok) -- (l-q24);
    \draw[arr] (l-q24) -- (m-tot);
    \draw (m-familiar) -- (m-misattr);
    \draw (m-familiar) -- (l-basedon2);
    \draw (l-basedon2) -- (m-fluency);

    % emotion links
    \draw[arr] (emo-title) -- (e-affective);
    \draw (emo-title) -- (l-arouses);
    \draw[arr] (l-arouses) -- (e-ans);
    \draw (e-affective) -- (l-processed);
    \draw[arr] (l-processed) -- (e-limbic);
    \draw (e-limbic) -- (l-includes3);
    \draw[arr] (l-includes3) -- (e-ofc);
    \draw (e-ofc) -- (l-ofemo);
    \draw[arr] (l-ofemo) -- (e-conscious);
    \draw (e-conscious) -- (l-doesnot);
    \draw[arr] (l-doesnot) -- (e-decision);
    \draw (e-ofc) -- (l-contributes);
    \draw[arr] (l-contributes) -- (e-decision);
    \draw (e-ofc) -- (l-monkeys);
    \draw[arr] (l-monkeys) -- (e-aggress);
    \draw (e-decision) -- (l-basedon);
    \draw[arr] (l-basedon) -- (e-reinf);
    \draw[arr] (l-basedon) -- (e-somatic);
    \draw (e-affective) -- (l-displayed);
    \draw[arr] (l-displayed) -- (e-fascial);
    \draw (e-affective) -- (l-interp);
    \draw[arr] (l-interp) -- (e-affstyle);
    \draw (e-ans) -- (l-respseen);
    \draw[arr] (l-respseen) -- (e-fascial);
    \draw (e-fascial) -- (l-facil);
    \draw[arr] (l-facil) -- (e-emocomm);
    \draw (e-affstyle) -- (l-laterality);
    \draw[arr] (l-laterality) -- (e-emocomm);

    % psychopharmacology links
    \draw (pharm-title) -- (l-involves5);
    \draw[arr] (l-involves5) -- (c-nt);
    \draw (p-dose) -- (l-q14);
    \draw[arr] (l-q14) -- (p-ed50);
    \draw[arr] (l-q14) -- (p-ti);
    \draw[arr] (l-q14) -- (p-ld50);
    \draw (p-antag) -- (l-elicit);
    \draw[arr] (l-elicit) -- (p-down);
    \draw (p-functol) -- (l-q15);
    \draw[arr] (l-q15) -- (p-down);
    \draw[arr] (l-q15) -- (p-up);
    \draw (p-agonist) -- (l-q16);
    \draw[arr] (l-q16) -- (p-up);
    \draw (c-vesicles) -- (l-contained);
    \draw[arr] (l-contained) -- (c-nt);
    \draw (c-nt) -- (l-intothe);
    \draw[arr] (l-intothe) -- (c-synapse);
    \draw (c-nt) -- (l-suchas);
    \draw[arr] (l-suchas) -- (k-acetyl);
    \draw[arr] (l-suchas) -- (c-endorph);
    \draw[arr] (l-suchas) -- (c-gaba);
    \draw[arr] (l-suchas) -- (c-glut);
    \draw[arr] (l-suchas) -- (c-monoam);
    \draw (p-maoi) -- (l-canbe2);
    \draw[arr] (l-canbe2) -- (p-nonrev);
    \draw[arr] (l-canbe2) -- (p-rev);
    \draw (p-maoi) -- (l-stops);
    \draw[arr] (l-stops) -- (c-mao);
    \draw (c-mao) -- (l-breaks);
    \draw[arr] (l-breaks) -- (c-monoam);
    \draw (c-monoam) -- (l-threemono);
    \draw[arr] (l-threemono) -- (c-three);
    \draw[arr] (l-threemono) -- (c-sera);
    \draw (c-three) -- (l-whichare);
    \draw[arr] (l-whichare) -- (k-epi);
    \draw[arr] (l-whichare) -- (k-norepi);
    \draw[arr] (l-whichare) -- (c-dopa);
    \draw (p-ldopa) -- (l-precur1);
    \draw[arr] (l-precur1) -- (c-dopa);
    \draw (p-ldopa) -- (l-precur3);
    \draw (l-precur3) -- (c-tyros);
    \draw (c-sera) -- (l-precur2);
    \draw[arr] (l-precur2) -- (p-trypt);
    \draw (p-ssri) -- (l-affby2);
    \draw[arr] (l-affby2) -- (c-sera);
    \draw (p-valium) -- (l-affby1);
    \draw[arr] (l-affby1) -- (c-gaba);
    \draw (c-glut) -- (l-overact);
    \draw[arr] (l-overact) -- (c-excitotox);
    \draw (c-excitotox) -- (l-occurs);
    \draw[arr] (l-occurs) -- (c-pruning);
    \draw (e-nmda) -- (l-binds);
    \draw[arr] (l-binds) -- (c-glut);
    \draw (e-nmda) -- (l-include2);
    \draw[arr] (l-include2) -- (c-recept);
    \draw (c-spines) -- (l-withmany);
    \draw[arr] (l-withmany) -- (c-recept);

    % cellular links
    \draw (cell-title) -- (l-twokinds);
    \draw[arr] (l-twokinds) -- (c-glial);
    \draw[arr] (l-twokinds) -- (c-neurons);
    \draw (c-neurons) -- (l-canbe);
    \draw[arr] (l-canbe) -- (c-excit);
    \draw[arr] (l-canbe) -- (c-inhib);
    \draw (c-neurons) -- (l-meet);
    \draw[arr] (l-meet) -- (c-synapse);
    \draw (c-excit) -- (c-glut);
    \draw[arr] (c-inhib) -- (c-gaba);
    \draw (c-ap) -- (l-moves);
    \draw[arr] (l-moves) -- (c-axon);
    \draw (c-axon) -- (l-is3);
    \draw[arr] (l-is3) -- (c-presyn);
    \draw (c-axon) -- (l-through);
    \draw[arr] (l-through) -- (c-prop);
    \draw (c-prop) -- (l-sometimes);
    \draw[arr] (l-sometimes) -- (c-myelin);
    \draw (c-myelin) -- (l-around);
    \draw[arr] (l-around) -- (c-salt);
    \draw (c-salt) -- (l-between);
    \draw[arr] (l-between) -- (c-ranvier);
    \draw (c-conc) -- (l-exists);
    \draw[arr] (l-exists) -- (c-na);
    \draw[arr] (l-exists) -- (c-k);
    \draw (c-na) -- (l-segreg);
    \draw (c-k) -- (l-segreg);
    \draw[arr] (l-segreg) -- (c-pump);
    \draw (c-pump) -- (l-letsmore);
    \draw[arr] (l-letsmore) -- (c-elgrad);
    \draw (c-synapse) -- (l-q11);
    \draw[arr] (l-q11) -- (c-presyn);
    \draw (c-synapse) -- (l-q12);
    \draw[arr] (l-q12) -- (c-postsyn);
    \draw (c-postsyn) -- (l-q13);
    \draw[arr] (l-q13) -- (c-dendr);
    \draw (c-dendr) -- (l-which);
    \draw[arr] (l-which) -- (c-spines);

    % anatomy links
    \draw (anat-title) -- (a-cns);
    \draw (a-cns) -- (l-unconc);
    \draw[arr] (l-unconc) -- (a-ans);
    \draw (a-cns) -- (l-consists);
    \draw[arr] (l-consists) -- (a-white);
    \draw[arr] (l-consists) -- (a-grey);
    \draw (a-cns) -- (l-q7);
    \draw[arr] (l-q7) -- (a-pns);
    \draw (a-grey) -- (l-covered);
    \draw[arr] (l-covered) -- (a-dura);
    \draw (a-dura) -- (l-protects);
    \draw[arr] (l-protects) -- (a-cerebral);
    \draw (a-cerebral) -- (l-surrounds);
    \draw (l-surrounds) -- (a-midbrain);
    \draw (a-cerebral) -- (l-marked);
    \draw[arr] (l-marked) -- (a-gyri);
    \draw[arr] (l-marked) -- (a-sulci);
    \draw (a-cerebral) -- (l-comprised);
    \draw[arr] (l-comprised) -- (a-temporal);
    \draw[arr] (l-comprised) -- (a-assoc);
    \draw[arr] (l-comprised) -- (a-frontal);
    \draw[arr] (l-comprised) -- (a-prefront);
    \draw[arr] (l-comprised) -- (a-occip);
    \draw[arr] (l-comprised) -- (a-pariet);
    \draw[arr] (l-comprised) -- (a-neocortex);
    \draw (a-midbrain) -- (l-q8);
    \draw[arr] (l-q8) -- (a-basal);
    \draw (a-midbrain) -- (l-q9);
    \draw[arr] (l-q9) -- (a-limbic);
    \draw[arr] (a-basal) -- (a-hypo);
    \draw (a-basal) -- (a-thal);
    \draw[arr] (a-limbic) -- (a-hippo);
    \draw[arr] (a-limbic) -- (a-amyg);
    \draw (a-cytomap) -- (l-q10);
    \draw[arr] (l-q10) -- (a-ba1);
    \draw[arr] (l-q10) -- (a-ba17);
    \draw[arr] (l-q10) -- (a-ba28);
    \draw[arr] (l-q10) -- (a-ba41);
    \draw[arr] (l-q10) -- (a-ba9);
  \end{scope}
\end{tikzpicture}
\end{document}
